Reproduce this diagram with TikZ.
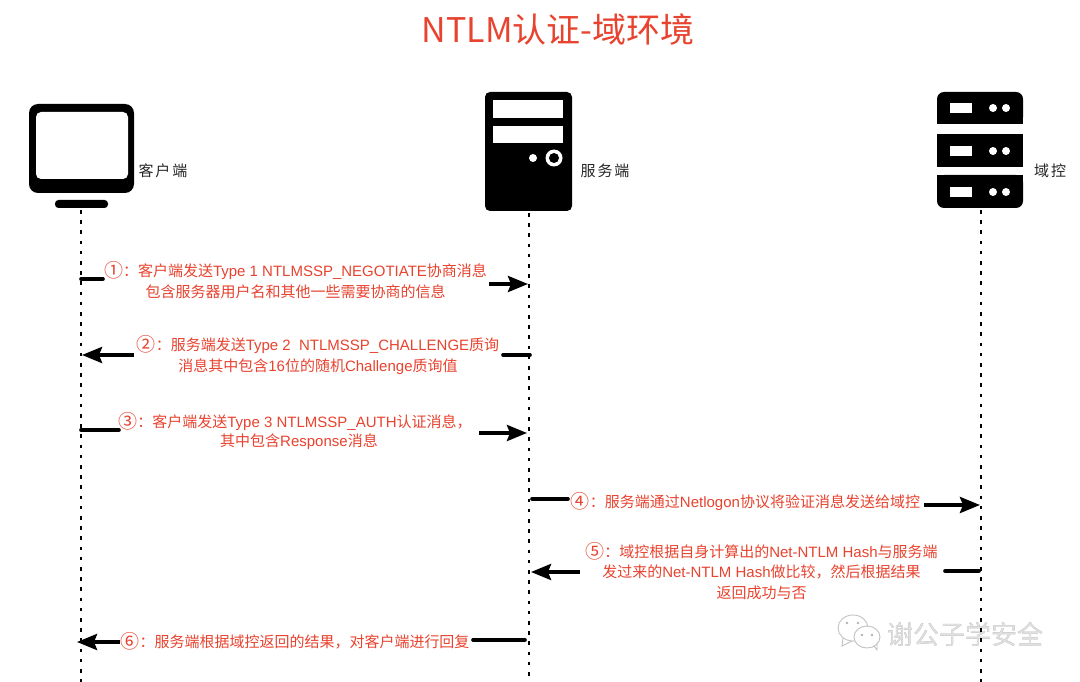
\documentclass[tikz,border=0pt]{standalone}
\usepackage{fontspec}
\setmainfont{Liberation Sans}
\newfontfamily\cjk{Noto Sans CJK SC}
\usetikzlibrary{arrows.meta}
\definecolor{redtxt}{HTML}{E8432F}
\newcommand{\C}[1]{{\cjk #1}}
\newcommand{\Num}[1]{\raisebox{-1pt}{\cjk\fontsize{19}{19}\selectfont #1}}
\tikzset{
  lbl/.style={text=redtxt,font=\fontsize{15}{15}\selectfont,inner sep=0pt,anchor=center},
  actor/.style={text=black!85,font=\cjk\fontsize{15}{15}\selectfont,inner sep=0pt,anchor=center},
  life/.style={black,line width=1.8pt,dash pattern=on 3.6pt off 6.6pt},
  stub/.style={black,line width=3.6pt,line cap=round},
  arr/.style={black,line width=3.6pt,-{Stealth[length=20pt,width=16pt,inset=3pt]}},
  blk/.style={fill=black,draw=none},
  wht/.style={fill=white,draw=none},
  wm/.style={font=\cjk\fontsize{26}{26}\selectfont,inner sep=0pt,anchor=center},
}
\begin{document}
\begin{tikzpicture}[x=1pt,y=-1pt]
\useasboundingbox[fill=white] (0,0) rectangle (1080,682);
% watermark
\node[wm,text=black!42] (wmks) at (965.4,634.4) {谢公子学安全};
\node[wm,text=black!12] (wmk) at (965,634) {谢公子学安全};
\begin{scope}[draw=black!24,line width=0.9pt,fill=white]
\filldraw (853,628) ellipse (15 and 13);
\draw (843,638) -- (842,646) -- (852,641);
\filldraw (867,637) ellipse (13 and 11);
\draw (874,646) -- (877,650) -- (877,643);
\end{scope}
\fill[black!30] (847,623) circle (1.3) (858,623) circle (1.3) (862,635) circle (1.3) (872,635) circle (1.3);
% lifelines
\coordinate (lc0) at (81,210); \coordinate (lc1) at (81,682);
\coordinate (ls0) at (529,213); \coordinate (ls1) at (529,682);
\coordinate (ld0) at (981,210); \coordinate (ld1) at (981,682);
\draw[life] (lc0) -- (lc1);
\draw[life] (ls0) -- (ls1);
\draw[life] (ld0) -- (ld1);
% title
\node[text=redtxt,font=\cjk\fontsize{34}{34}\selectfont,inner sep=0pt] (title) at (558,30) {NTLM认证-域环境};
% monitor
\fill[blk,rounded corners=9pt] (29,104) rectangle (134,193);
\fill[wht,rounded corners=5pt] (36,112) rectangle (128,179);
\fill[blk,rounded corners=3.5pt] (55,200) rectangle (108,208);
% server
\fill[blk,rounded corners=5pt] (485,92) rectangle (572,211);
\fill[wht] (493,100) rectangle (563,118);
\fill[wht] (493,126) rectangle (563,143);
\fill[wht] (533,158) circle (4);
\fill[wht] (554,158) circle (8.5);
\fill[blk] (554,158) circle (5);
% domain controller
\fill[blk,rounded corners=7pt] (937,92) -- (1023,92) -- (1023,124) [sharp corners] -- (937,124) [rounded corners=7pt] -- cycle;
\fill[blk] (937,110) rectangle (1023,124);
\fill[blk] (937,134) rectangle (1023,167);
\fill[blk,rounded corners=7pt] (937,175) -- (1023,175) -- (1023,208) -- (937,208) -- cycle;
\fill[blk] (937,175) rectangle (1023,190);
\foreach \yy in {103,146,187}{
  \fill[wht] (949.5,\yy) rectangle (971.5,\yy+10);
  \fill[wht] (993,\yy+5) circle (4);
  \fill[wht] (1006,\yy+5) circle (4);
}
% actor labels
\node[actor] (client) at (163,171) {客\hspace{2pt}户\hspace{2pt}端};
\node[actor] (server) at (605,171) {服\hspace{2pt}务\hspace{2pt}端};
\node[actor] (dc) at (1050,171) {域\hspace{2pt}控};
% connector ends
\coordinate (a1) at (81,279); \coordinate (a1b) at (103,279);
\coordinate (a1c) at (489,284); \coordinate (a1d) at (528,284);
\coordinate (a2) at (134,355); \coordinate (a2b) at (82,355);
\coordinate (a2c) at (503,355); \coordinate (a2d) at (530,355);
\coordinate (a3) at (81,430); \coordinate (a3b) at (119,430);
\coordinate (a3c) at (479,433); \coordinate (a3d) at (527,433);
\coordinate (a4) at (532,499); \coordinate (a4b) at (568,499);
\coordinate (a4c) at (924,505); \coordinate (a4d) at (980,505);
\coordinate (a5) at (979,571); \coordinate (a5b) at (945,571);
\coordinate (a5c) at (580,572); \coordinate (a5d) at (531,572);
\coordinate (a6) at (525,640); \coordinate (a6b) at (473,640);
\coordinate (a6c) at (120,642); \coordinate (a6d) at (77,642);
\draw[stub] (a1) -- (a1b); \draw[arr] (a1c) -- (a1d);
\draw[arr] (a2) -- (a2b); \draw[stub] (a2c) -- (a2d);
\draw[stub] (a3) -- (a3b); \draw[arr] (a3c) -- (a3d);
\draw[stub] (a4) -- (a4b); \draw[arr] (a4c) -- (a4d);
\draw[stub] (a5) -- (a5b); \draw[arr] (a5c) -- (a5d);
\draw[stub] (a6) -- (a6b); \draw[arr] (a6c) -- (a6d);
% labels
\node[lbl] (t1a) at (295.5,271) {\Num{①}\C{：客户端发送}Type 1 NTLMSSP\_NEGOTIATE\C{协商消息}};
\node[lbl] (t1b) at (295.5,292) {\C{包含服务器用户名和其他一些需要协商的信息}};
\node[lbl] (t2a) at (318,345) {\Num{②}\C{：服务端发送}Type 2\ \ NTLMSSP\_CHALLENGE\C{质询}};
\node[lbl] (t2b) at (318,367) {\C{消息其中包含}16\C{位的随机}Challenge\C{质询值}};
\node[lbl] (t3a) at (295,422) {\Num{③}\C{：客户端发送}Type 3 NTLMSSP\_AUTH\C{认证消息，}};
\node[lbl] (t3b) at (299,442) {\C{其中包含}Response\C{消息}};
\node[lbl] (t4) at (745.5,502) {\Num{④}\C{：服务端通过}Netlogon\C{协议将验证消息发送给域控}};
\node[lbl] (t5a) at (761.5,551) {\Num{⑤}\C{：域控根据自身计算出的}Net-NTLM Hash\C{与服务端}};
\node[lbl] (t5b) at (761.5,572) {\C{发过来的}Net-NTLM Hash\C{做比较，然后根据结果}};
\node[lbl] (t5c) at (761.5,593) {\C{返回成功与否}};
\node[lbl] (t6) at (295,641) {\Num{⑥}\C{：服务端根据域控返回的结果，对客户端进行回复}};
\end{tikzpicture}
\end{document}
